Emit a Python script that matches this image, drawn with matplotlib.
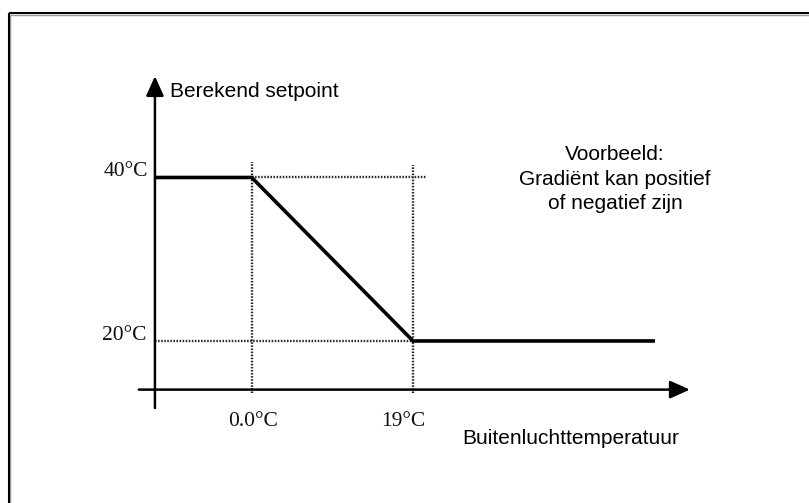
# -*- coding: utf-8 -*-
"""
Schematische stooklijn: berekend setpoint tegen buitenluchttemperatuur.
Vlak op 40 °C tot 0 °C buiten, lineair dalend tot 20 °C bij 19 °C buiten,
daarna vlak. Alles getekend in één assenstelsel zonder zichtbare assen.
"""
import matplotlib
matplotlib.use("Agg")
import matplotlib.pyplot as plt
from matplotlib.lines import Line2D

# ── gegevens ─────────────────────────────────────────────────────────────
curve_t = [-11.4, 0.0, 19.0, 47.5]        # buitentemperatuur (schematisch)
curve_sp = [40.0, 40.0, 20.0, 20.0]       # berekend setpoint (°C)
break_t = [0.0, 19.0]                     # knikpunten op de x-as
break_labels = ["0.0°C", "19°C"]
level_sp = [40.0, 20.0]                   # grenzen setpoint
level_labels = ["40°C", "20°C"]
note_lines = ["Voorbeeld:", "Gradiënt kan positief", "of negatief zijn"]

# ── schematische as-ligging (in dezelfde eenheden) ───────────────────────
T_AXIS = -11.4          # waar de verticale as staat
SP_AXIS = 14.05         # waar de horizontale as staat
X_LIM = (-29.65, 65.64)
Y_LIM = (0.18, 61.71)

SANS = "Liberation Sans"
SERIF = "Liberation Serif"
INK = "black"
DOT = "#262626"
FS_SANS = 15.0
FS_SERIF = 15.5

fig = plt.figure(figsize=(8.09, 5.03), dpi=100)
ax = fig.add_axes([0, 0, 1, 1])
ax.set_xlim(*X_LIM)
ax.set_ylim(*Y_LIM)
ax.axis("off")

# kader (alleen boven en links, met grijze schaduw)
for off, col, lw in [(1.3, "#9a9a9a", 1.0), (0.0, INK, 1.5)]:
    fx = (8.8 + off) / 809
    fy = 1 - (13.3 + off) / 503
    fig.add_artist(Line2D([fx, 1.0], [fy, fy], transform=fig.transFigure,
                          color=col, lw=lw, solid_capstyle="butt"))
    fig.add_artist(Line2D([fx, fx], [0.0, fy], transform=fig.transFigure,
                          color=col, lw=lw, solid_capstyle="butt"))

# assen met pijlen
arrow = dict(arrowstyle="-|>,head_length=1.0,head_width=0.45", color=INK,
             lw=1.8, shrinkA=0, shrinkB=0, mutation_scale=12)
ax.annotate("", xy=(51.6, SP_AXIS), xytext=(-13.3, SP_AXIS), arrowprops=arrow)
ax.annotate("", xy=(T_AXIS, 52.4), xytext=(T_AXIS, 11.8), arrowprops=arrow)

# hulplijnen (gestippeld)
dots = dict(color=DOT, lw=1.7, ls=(0, (0.65, 0.65)), zorder=2)
ax.plot([curve_t[1], 20.5], [level_sp[0], level_sp[0]], **dots)
ax.plot([T_AXIS, curve_t[2]], [level_sp[1], level_sp[1]], **dots)
ax.plot([break_t[0], break_t[0]], [13.6, 41.9], **dots)
ax.plot([break_t[1], break_t[1]], [13.6, 41.5], **dots)

# stooklijn
ax.plot(curve_t, curve_sp, color=INK, lw=2.6, solid_joinstyle="miter",
        solid_capstyle="butt", zorder=3)

# labels setpoint-niveaus
for sp, lab, dx in zip(level_sp, level_labels, [-7, -8]):
    ax.annotate(lab, (T_AXIS, sp), xytext=(dx, 1), textcoords="offset pixels",
                ha="right", va="baseline", fontsize=FS_SERIF, family=SERIF,
                color="#111111")

# labels knikpunten
for t, lab, dx in zip(break_t, break_labels, [1, -10]):
    ax.annotate(lab, (t, SP_AXIS), xytext=(dx, -36), textcoords="offset pixels",
                ha="center", va="baseline", fontsize=FS_SERIF, family=SERIF,
                color="#111111")

# astitels
ax.annotate("Berekend setpoint", (T_AXIS, 52.4), xytext=(15.5, -21),
            textcoords="offset pixels", ha="left", va="baseline",
            fontsize=FS_SANS, family=SANS, color=INK)
ax.annotate("Buitenluchttemperatuur", (break_t[1], SP_AXIS), xytext=(49, -54),
            textcoords="offset pixels", ha="left", va="baseline",
            fontsize=FS_SANS, family=SANS, color=INK)

# toelichting
for i, line in enumerate(note_lines):
    ax.annotate(line, (curve_t[2], level_sp[0]), xytext=(202, 17 - 24.3 * i),
                textcoords="offset pixels", ha="center", va="baseline",
                fontsize=FS_SANS, family=SANS, color=INK)

fig.savefig("out.png", dpi=100)
